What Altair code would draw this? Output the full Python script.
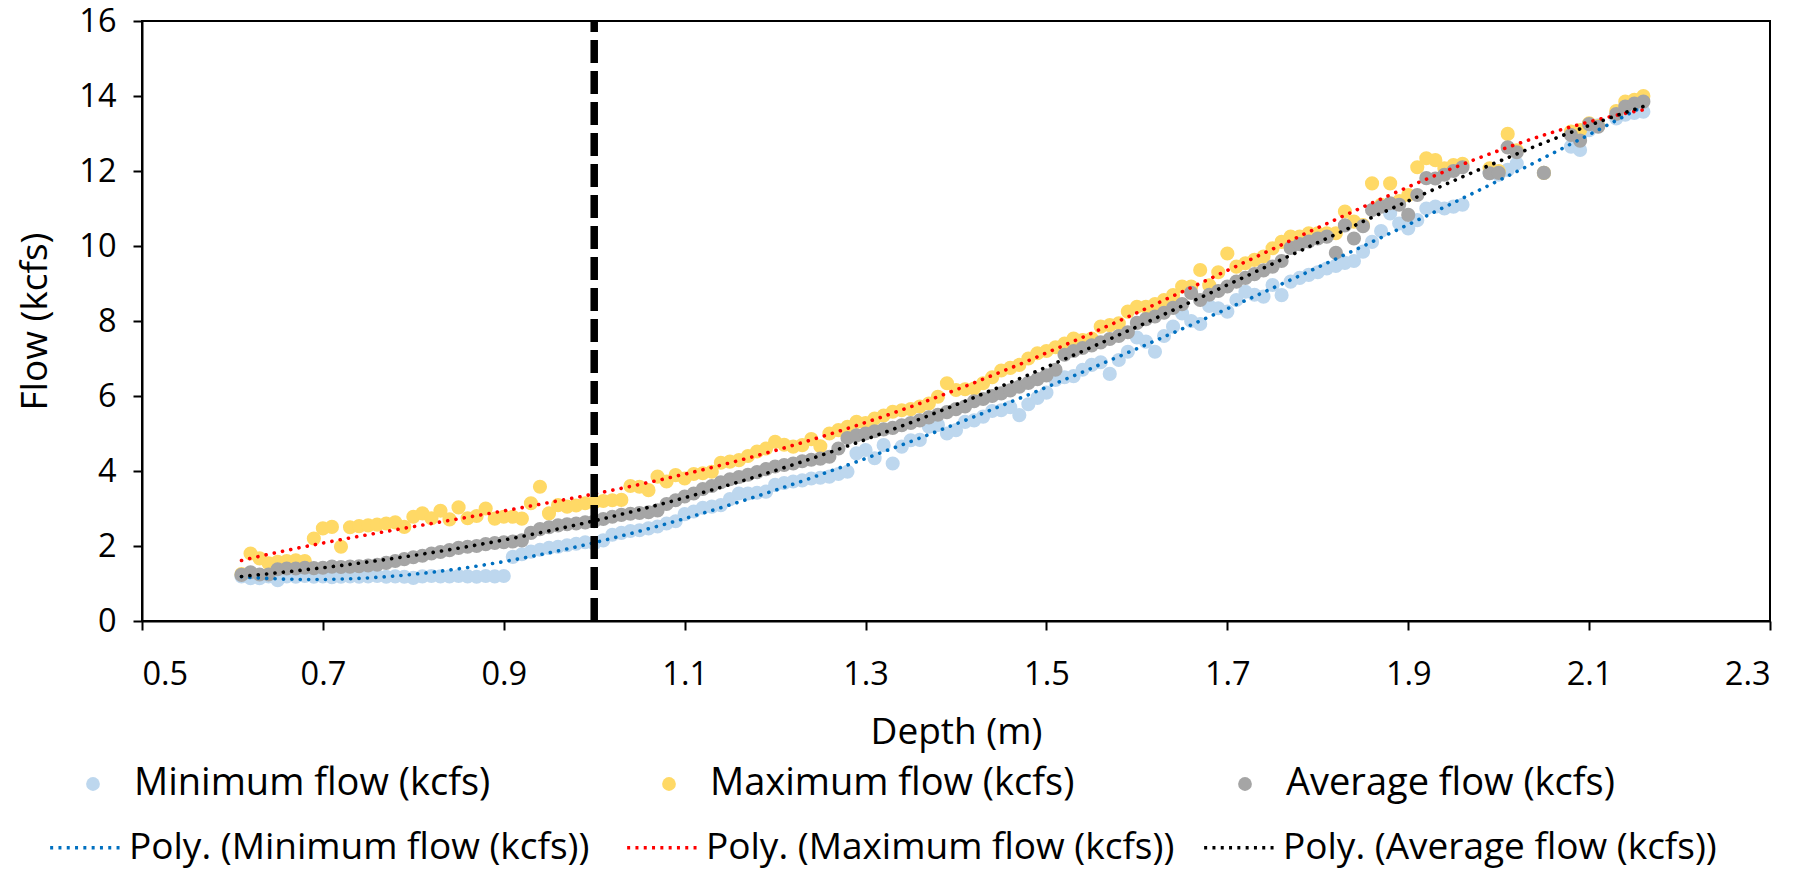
import altair as alt
import pandas as pd

# ---------------- data ----------------
depth = [
    0.61, 0.62, 0.63, 0.64, 0.65, 0.66, 0.67, 0.68, 0.69, 0.70,
    0.71, 0.72, 0.73, 0.74, 0.75, 0.76, 0.77, 0.78, 0.79, 0.80,
    0.81, 0.82, 0.83, 0.84, 0.85, 0.86, 0.87, 0.88, 0.89, 0.90,
    0.91, 0.92, 0.93, 0.94, 0.95, 0.96, 0.97, 0.98, 0.99, 1.00,
    1.01, 1.02, 1.03, 1.04, 1.05, 1.06, 1.07, 1.08, 1.09, 1.10,
    1.11, 1.12, 1.13, 1.14, 1.15, 1.16, 1.17, 1.18, 1.19, 1.20,
    1.21, 1.22, 1.23, 1.24, 1.25, 1.26, 1.27, 1.28, 1.29, 1.30,
    1.31, 1.32, 1.33, 1.34, 1.35, 1.36, 1.37, 1.38, 1.39, 1.40,
    1.41, 1.42, 1.43, 1.44, 1.45, 1.46, 1.47, 1.48, 1.49, 1.50,
    1.51, 1.52, 1.53, 1.54, 1.55, 1.56, 1.57, 1.58, 1.59, 1.60,
    1.61, 1.62, 1.63, 1.64, 1.65, 1.66, 1.67, 1.68, 1.69, 1.70,
    1.71, 1.72, 1.73, 1.74, 1.75, 1.76, 1.77, 1.78, 1.79, 1.80,
    1.81, 1.82, 1.83, 1.84, 1.85, 1.86, 1.87, 1.88, 1.89, 1.90,
    1.91, 1.92, 1.93, 1.94, 1.95, 1.96, 1.99, 2.00, 2.01, 2.02,
    2.05, 2.08, 2.09, 2.10, 2.11, 2.13, 2.14, 2.15, 2.16,
]

min_flow = [
    1.19, 1.14, 1.14, 1.19, 1.09, 1.19, 1.18, 1.20, 1.18, 1.19,
    1.17, 1.18, 1.19, 1.18, 1.19, 1.20, 1.18, 1.19, 1.18, 1.15,
    1.19, 1.20, 1.19, 1.19, 1.20, 1.19, 1.18, 1.20, 1.19, 1.20,
    1.71, 1.78, 1.85, 1.90, 1.95, 1.98, 2.02, 2.06, 2.10, 2.07,
    2.15, 2.30, 2.35, 2.40, 2.42, 2.47, 2.52, 2.60, 2.66, 2.85,
    2.92, 3.02, 3.05, 3.09, 3.25, 3.40, 3.40, 3.42, 3.45, 3.63,
    3.68, 3.72, 3.75, 3.80, 3.82, 3.85, 3.92, 3.98, 4.47, 4.56,
    4.34, 4.69, 4.20, 4.65, 4.82, 4.83, 5.18, 5.23, 5.00, 5.09,
    5.31, 5.35, 5.45, 5.60, 5.62, 5.70, 5.49, 5.78, 5.95, 6.09,
    6.43, 6.50, 6.53, 6.70, 6.83, 6.90, 6.59, 6.96, 7.18, 7.56,
    7.45, 7.18, 7.60, 7.85, 8.20, 8.00, 7.92, 8.40, 8.34, 8.25,
    8.56, 8.78, 8.70, 8.65, 8.96, 8.69, 9.05, 9.15, 9.23, 9.30,
    9.40, 9.47, 9.55, 9.60, 9.85, 10.11, 10.40, 10.87, 10.60, 10.47,
    10.69, 11.00, 11.05, 11.00, 11.05, 11.10, 11.94, 11.90, 12.03, 12.20,
    11.95, 12.65, 12.56, 13.09, 13.22, 13.40, 13.50, 13.55, 13.58,
]

max_flow = [
    1.25, 1.80, 1.67, 1.54, 1.58, 1.60, 1.62, 1.60, 2.20, 2.47,
    2.51, 1.98, 2.50, 2.53, 2.55, 2.57, 2.60, 2.63, 2.51, 2.78,
    2.87, 2.74, 2.94, 2.71, 3.03, 2.74, 2.80, 3.00, 2.73, 2.78,
    2.78, 2.73, 3.14, 3.58, 2.87, 3.09, 3.05, 3.08, 3.14, 3.16,
    3.20, 3.22, 3.23, 3.60, 3.58, 3.49, 3.85, 3.72, 3.89, 3.80,
    3.92, 3.94, 3.98, 4.22, 4.25, 4.29, 4.40, 4.52, 4.60, 4.78,
    4.70, 4.65, 4.69, 4.85, 4.66, 5.00, 5.09, 5.18, 5.31, 5.28,
    5.40, 5.48, 5.58, 5.62, 5.65, 5.72, 5.80, 5.98, 6.34, 6.16,
    6.18, 6.20, 6.34, 6.50, 6.68, 6.75, 6.83, 7.00, 7.14, 7.20,
    7.30, 7.40, 7.53, 7.49, 7.53, 7.85, 7.89, 7.94, 8.25, 8.38,
    8.38, 8.45, 8.56, 8.69, 8.92, 8.92, 9.36, 8.95, 9.30, 9.80,
    9.45, 9.54, 9.63, 9.72, 9.94, 10.11, 10.25, 10.25, 10.34, 10.34,
    10.34, 10.34, 10.92, 10.65, 10.56, 11.67, 11.10, 11.67, 11.20, 11.36,
    12.10, 12.34, 12.29, 12.07, 12.16, 12.19, 12.07, 12.00, 12.99, 12.55,
    11.95, 13.05, 13.09, 13.27, 13.20, 13.60, 13.85, 13.90, 14.00,
]

avg_flow = [
    1.23, 1.30, 1.24, 1.24, 1.38, 1.40, 1.40, 1.42, 1.41, 1.42,
    1.45, 1.44, 1.45, 1.46, 1.48, 1.50, 1.55, 1.60, 1.65, 1.70,
    1.74, 1.80, 1.84, 1.89, 1.95, 1.98, 2.00, 2.05, 2.08, 2.10,
    2.12, 2.15, 2.35, 2.45, 2.50, 2.55, 2.58, 2.60, 2.63, 2.66,
    2.72, 2.78, 2.83, 2.86, 2.88, 2.90, 2.95, 3.12, 3.22, 3.32,
    3.40, 3.52, 3.60, 3.70, 3.78, 3.84, 3.90, 3.97, 4.05, 4.12,
    4.16, 4.20, 4.26, 4.30, 4.33, 4.38, 4.60, 4.88, 4.95, 5.00,
    5.06, 5.11, 5.15, 5.22, 5.28, 5.35, 5.43, 5.50, 5.57, 5.65,
    5.72, 5.86, 5.92, 6.00, 6.07, 6.15, 6.25, 6.35, 6.45, 6.55,
    6.70, 7.10, 7.20, 7.28, 7.35, 7.43, 7.52, 7.60, 7.70, 7.95,
    8.05, 8.12, 8.22, 8.35, 8.45, 8.75, 8.56, 8.70, 8.80, 8.92,
    9.05, 9.15, 9.25, 9.35, 9.45, 9.60, 9.95, 10.05, 10.12, 10.20,
    10.25, 9.82, 10.55, 10.20, 10.53, 10.96, 11.05, 11.14, 11.10, 10.83,
    11.36, 11.81, 11.80, 11.90, 12.00, 12.10, 11.94, 11.95, 12.63, 12.50,
    11.95, 12.96, 12.81, 13.25, 13.18, 13.52, 13.72, 13.80, 13.85,
]

series_names = ["Minimum flow (kcfs)", "Maximum flow (kcfs)", "Average flow (kcfs)"]
trend_names = ["Poly. (Minimum flow (kcfs))", "Poly. (Maximum flow (kcfs))",
               "Poly. (Average flow (kcfs))"]
point_colors = ["#BDD7EE", "#FFD966", "#A5A5A5"]
trend_colors = ["#0070C0", "#FF0000", "#000000"]

x_ticks = [0.5, 0.7, 0.9, 1.1, 1.3, 1.5, 1.7, 1.9, 2.1, 2.3]
y_ticks = [0, 2, 4, 6, 8, 10, 12, 14, 16]

threshold_depth = [1.0]
threshold_y0 = [0]
threshold_y1 = [16]

# ---------------- table ----------------
rows = []
for k, vals in enumerate([min_flow, max_flow, avg_flow]):
    for d, v in zip(depth, vals):
        rows.append({"depth": d, "flow": v, "series": series_names[k],
                     "trend": trend_names[k], "z": k})
df = pd.DataFrame(rows)

FONT = "Open Sans"

x_enc = alt.X("depth:Q",
              scale=alt.Scale(domain=[0.5, 2.3], nice=False, zero=False),
              axis=alt.Axis(values=x_ticks, format=".1f", title="Depth (m)",
                            labelPadding=28, titlePadding=24))
y_enc = alt.Y("flow:Q",
              scale=alt.Scale(domain=[0, 16], nice=False),
              axis=alt.Axis(values=y_ticks, title="Flow (kcfs)",
                            labelPadding=17, titlePadding=24))

base = alt.Chart(df)

points = base.mark_circle(size=200, opacity=1, strokeWidth=0).encode(
    x=x_enc,
    y=y_enc,
    fill=alt.Fill("series:N",
                  scale=alt.Scale(domain=series_names, range=point_colors),
                  legend=alt.Legend(
                      orient="none", legendX=-68, legendY=744,
                      direction="horizontal", columns=3, gridAlign="all",
                      columnPadding=151, symbolType="circle", symbolSize=190,
                      symbolStrokeWidth=0, labelOffset=22, labelFontSize=38,
                      labelFont=FONT, labelColor="#000000", title=None,
                      labelLimit=0)),
    order=alt.Order("z:Q"),
)

# Excel-style polynomial trendlines (4th order), fitted by Vega itself
trends = base.transform_regression(
    "depth", "flow", groupby=["trend"], method="poly", order=4
).mark_line(strokeDash=[0.1, 8.3], strokeCap="round", strokeWidth=3.6).encode(
    x=alt.X("depth:Q"),
    y=alt.Y("flow:Q"),
    stroke=alt.Stroke("trend:N",
                      scale=alt.Scale(domain=trend_names, range=trend_colors),
                      legend=alt.Legend(
                          orient="none", legendX=-94, legendY=789,
                          direction="horizontal", columns=3, gridAlign="all",
                          columnPadding=22, symbolType="stroke",
                          symbolSize=5000, symbolStrokeWidth=3.4,
                          symbolDash=[3, 5.3], labelOffset=6,
                          labelFontSize=37, labelFont=FONT,
                          labelColor="#000000", title=None, labelLimit=0)),
)

vline_df = pd.DataFrame({"depth": threshold_depth, "y0": threshold_y0,
                         "y1": threshold_y1})
vline = alt.Chart(vline_df).mark_rule(
    color="#000000", strokeWidth=7.5, strokeDash=[23, 8]
).encode(x=alt.X("depth:Q"), y=alt.Y("y0:Q"), y2="y1:Q")

chart = alt.layer(points, trends, vline).resolve_scale(
    fill="independent", stroke="independent"
).properties(
    width=1628, height=600,
    padding={"left": 134, "top": 13, "right": 36, "bottom": 249},
    autosize=alt.AutoSizeParams(type="none"),
).configure_view(
    stroke="#000000", strokeWidth=2
).configure_axis(
    grid=False, domainColor="#000000", domainWidth=2, tickColor="#000000",
    tickWidth=2, tickSize=9, labelFont=FONT, labelFontSize=32.5,
    labelColor="#000000", titleFont=FONT, titleFontSize=37,
    titleFontWeight="normal", titleColor="#000000",
)

chart.save("out.html", embed_options={"renderer": "svg", "actions": False})
